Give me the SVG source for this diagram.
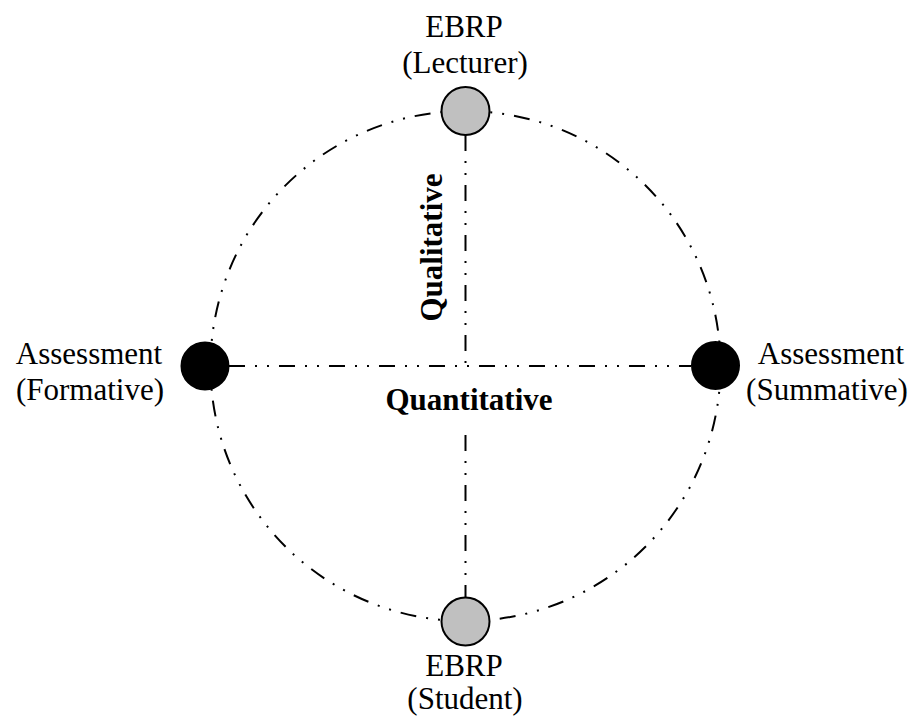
<svg xmlns="http://www.w3.org/2000/svg" width="916" height="716" viewBox="0 0 916 716">
<style>
.dl{fill:none;stroke:#000;stroke-width:2;stroke-dasharray:16 10 2 10 2 10}
.lbl{font-family:"Liberation Serif","Times New Roman",serif;font-size:31px;fill:#000;text-anchor:middle}
.b{font-weight:bold}
.grey{fill:#c0c0c0;stroke:#000;stroke-width:2}
.blk{fill:#000;stroke:#000;stroke-width:2}
</style>
<rect width="916" height="716" fill="#fff"/>
<g id="connectors">
<circle class="dl" cx="465.5" cy="366" r="255"/>
<line class="dl" x1="229" y1="366" x2="691" y2="366"/>
<line class="dl" x1="465.5" y1="135" x2="465.5" y2="366"/>
<line class="dl" x1="465.5" y1="435" x2="465.5" y2="597"/>
</g>
<g id="axis-labels">
<text class="lbl b" x="469" y="410">Quantitative</text>
<text class="lbl b" transform="translate(442,247.5) rotate(-90)">Qualitative</text>
</g>
<g id="node-lecturer">
<circle class="grey" cx="465.5" cy="111" r="24"/>
<text class="lbl" x="464" y="37">EBRP</text>
<text class="lbl" x="465" y="73">(Lecturer)</text>
</g>
<g id="node-student">
<circle class="grey" cx="465.5" cy="621.5" r="24"/>
<text class="lbl" x="464" y="676">EBRP</text>
<text class="lbl" x="465" y="709">(Student)</text>
</g>
<g id="node-formative">
<circle class="blk" cx="205" cy="366" r="23.5"/>
<text class="lbl" x="89" y="364">Assessment</text>
<text class="lbl" x="90" y="400">(Formative)</text>
</g>
<g id="node-summative">
<circle class="blk" cx="715.5" cy="365.5" r="23.5"/>
<text class="lbl" x="831" y="364">Assessment</text>
<text class="lbl" x="827" y="400">(Summative)</text>
</g>
</svg>
